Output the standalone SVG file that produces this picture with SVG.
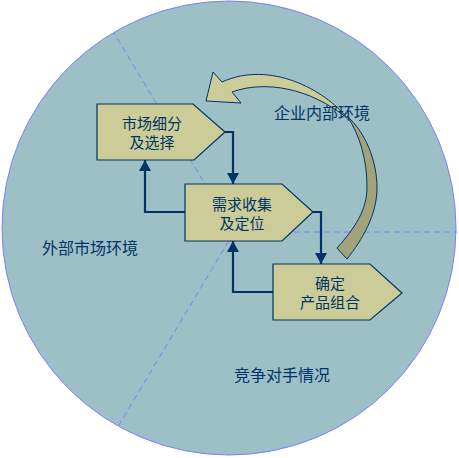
<svg xmlns="http://www.w3.org/2000/svg" width="459" height="458" viewBox="0 0 459 458">
<style>
.bg{fill:#9dbfc6;stroke:#7f7fff;stroke-width:1}
.dash{stroke:#7f7fff;stroke-width:1;stroke-dasharray:6,4;fill:none}
.box{fill:#cccc99;stroke:#003366;stroke-width:1.2}
.t{font-family:"Noto Sans CJK SC","Noto Sans",sans-serif;fill:#003366;text-anchor:middle}
.bt{font-size:15px}
.lt{font-size:16px}
.conn{fill:none;stroke:#003366;stroke-width:2.2}
.ca{stroke:#003366;stroke-width:1}
</style>
<defs>
<marker id="ah" markerUnits="userSpaceOnUse" markerWidth="12" markerHeight="12" refX="11" refY="6" orient="auto" viewBox="0 0 12 12">
<path d="M0,0 L11,6 L0,12 Z" fill="#003366"/>
</marker>
</defs>
<g id="background">
<circle class="bg" cx="229" cy="228" r="227"/>
<path class="dash" d="M234,232 L114,33 M234,232 L119,425 M234,232 L457,232"/>
</g>
<g id="cycle-arrow">
<path class="ca" fill="#a3a37b" d="M347,116 C365,132 377,160 377,188 C377,215 362,240 347,259 L337,248 C355,228 367,210 367,187 C367,160 360,135 347,116 Z"/>
<path class="ca" fill="#cccc99" d="M213,72 L206,101 L241,103 L232,92 C265,80 310,88 347,118 C325,90 270,60 222,82 Z"/>
</g>
<g id="connectors">
<path class="conn" marker-end="url(#ah)" d="M225,132 H233 V184"/>
<path class="conn" marker-end="url(#ah)" d="M185,212 H145 V160"/>
<path class="conn" marker-end="url(#ah)" d="M313,212 H321 V264"/>
<path class="conn" marker-end="url(#ah)" d="M273,292 H233 V241"/>
</g>
<g id="node-segment">
<path class="box" d="M97,104 H193 L225,132 L194,160 H97 Z"/>
<text class="t bt" x="152" y="129">市场细分</text>
<text class="t bt" x="152" y="148">及选择</text>
</g>
<g id="node-demand">
<path class="box" d="M185,184 H282 L313,212 L282,241 H185 Z"/>
<text class="t bt" x="242" y="210">需求收集</text>
<text class="t bt" x="242" y="229">及定位</text>
</g>
<g id="node-product">
<path class="box" d="M273,264 H370 L402,293 L370,320 H273 Z"/>
<text class="t bt" x="330" y="289">确定</text>
<text class="t bt" x="330" y="308">产品组合</text>
</g>
<g id="labels">
<text class="t lt" x="322" y="119">企业内部环境</text>
<text class="t lt" x="90" y="254">外部市场环境</text>
<text class="t lt" x="282" y="381">竞争对手情况</text>
</g>
</svg>
